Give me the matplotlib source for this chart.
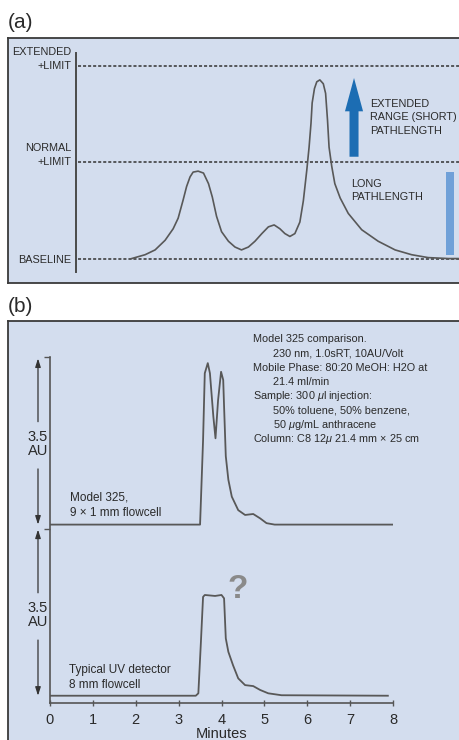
import numpy as np
import matplotlib
matplotlib.use('Agg')
import matplotlib.pyplot as plt
from matplotlib.patches import Rectangle

W, H = 460, 740

# (a) schematic chromatogram, signal in units of the normal limit
a_x = [1.45, 1.80, 2.06, 2.32, 2.53, 2.66, 2.79, 2.88, 2.97, 3.05,
       3.18, 3.32, 3.45, 3.55, 3.66, 3.79, 3.97, 4.14, 4.31, 4.49,
       4.66, 4.84, 5.01, 5.16, 5.31, 5.44, 5.57, 5.70, 5.83, 5.92,
       6.01, 6.07, 6.12, 6.15, 6.21, 6.27, 6.35, 6.44, 6.50, 6.55,
       6.59, 6.66, 6.74, 6.88, 7.09, 7.44, 7.87, 8.31, 8.74, 9.17,
       9.70, 9.95]
a_y = [0.0, 0.04, 0.09, 0.19, 0.31, 0.42, 0.61, 0.75, 0.85, 0.90,
       0.91, 0.89, 0.78, 0.64, 0.44, 0.28, 0.18, 0.12, 0.09, 0.12,
       0.18, 0.26, 0.33, 0.35, 0.31, 0.26, 0.23, 0.26, 0.38, 0.60,
       0.92, 1.16, 1.41, 1.62, 1.77, 1.84, 1.86, 1.82, 1.72, 1.44,
       1.16, 0.96, 0.78, 0.63, 0.47, 0.30, 0.18, 0.09, 0.04, 0.01,
       0.0, 0.0]
limit_levels = [0, 1, 2]
limit_labels = ['BASELINE', 'NORMAL\n+LIMIT', 'EXTENDED\n+LIMIT']

# (b) Model 325 vs typical UV detector (minutes, AU)
t_325 = [0, 3.50, 3.57, 3.61, 3.68, 3.73, 3.81, 3.86, 3.92, 3.99,
         4.04, 4.06, 4.10, 4.16, 4.24, 4.39, 4.55, 4.74, 4.90, 5.05,
         5.24, 8.0]
au_325 = [0, 0, 1.75, 3.14, 3.35, 3.14, 2.24, 1.79, 2.58, 3.17,
          3.0, 2.45, 1.42, 0.93, 0.58, 0.30, 0.20, 0.22, 0.13, 0.03,
          0, 0]
t_uv = [0, 3.40, 3.46, 3.52, 3.57, 3.61, 3.85, 4.00, 4.06, 4.10,
        4.16, 4.27, 4.39, 4.55, 4.74, 4.90, 5.09, 5.40, 7.88]
au_uv = [0, 0, 0.05, 1.12, 2.05, 2.09, 2.07, 2.09, 2.02, 1.19,
         0.91, 0.63, 0.36, 0.22, 0.20, 0.12, 0.05, 0.01, 0]
offset_325 = 3.55
au_range = 3.5
minute_ticks = list(range(0, 9))

notes = [(0, 'Model 325 comparison.'),
         (1, '230 nm, 1.0sRT, 10AU/Volt'),
         (0, 'Mobile Phase: 80:20 MeOH: H2O at'),
         (1, '21.4 ml/min'),
         (0, r'Sample: 300 $\mu$l injection:'),
         (1, '50% toluene, 50% benzene,'),
         (1, r'50 $\mu$g/mL anthracene'),
         (0, 'Column: C8 12$\\mu$ 21.4 mm \u00d7 25 cm')]

FONT = ['Liberation Sans', 'DejaVu Sans']
plt.rcParams['font.family'] = FONT
plt.rcParams['mathtext.fontset'] = 'custom'
plt.rcParams['mathtext.rm'] = 'Liberation Sans'
plt.rcParams['mathtext.it'] = 'Liberation Sans:italic'

PANEL = '#d3ddee'
INK = '#2a2a2a'
TRACE = '#585858'
SMALL = 7.8


def rect(x0, y0, x1, y1):
    return [x0 / W, 1 - y1 / H, (x1 - x0) / W, (y1 - y0) / H]


def fxy(x, y):
    return x / W, 1 - y / H


fig = plt.figure(figsize=(4.6, 7.4), dpi=100)
fig.patch.set_facecolor('white')

# panel backgrounds
for box in [(8, 38, 464, 283), (8, 321, 464, 752)]:
    bg = fig.add_axes(rect(*box), zorder=0)
    bg.set_facecolor(PANEL)
    bg.set_xticks([])
    bg.set_yticks([])
    for s in bg.spines.values():
        s.set_color('#3a3a3a')
        s.set_linewidth(1.3)

fig.text(*fxy(8, 22), '(a)', fontsize=15, color=INK, va='center')
fig.text(*fxy(8, 306), '(b)', fontsize=15, color=INK, va='center')

# ---- panel (a)
ax = fig.add_axes(rect(76, 53, 460, 272), zorder=1)
ax.set_facecolor('none')
ax.set_xlim(0, 10)
ax.set_ylim(-0.14, 2.14)
for k in ['top', 'right', 'bottom']:
    ax.spines[k].set_visible(False)
ax.spines['left'].set_color('#4a4a4a')
ax.spines['left'].set_linewidth(1.4)
ax.set_xticks([])
ax.set_yticks([])

for lev, lab in zip(limit_levels, limit_labels):
    ax.axhline(lev, xmin=0.006, color='#333333', lw=1.1, ls=(0, (2, 1.3)))
    dy = 0.08 if '\n' in lab else -0.01
    ax.text(-0.012, lev + dy, lab, transform=ax.get_yaxis_transform(),
            ha='right', va='center', multialignment='right',
            fontsize=SMALL, color=INK, linespacing=1.45)

ax.plot(a_x, a_y, color=TRACE, lw=1.2, solid_joinstyle='round')

ax.annotate('', xy=(7.24, 1.88), xytext=(7.24, 1.06),
            arrowprops=dict(arrowstyle='simple,head_length=2.4,head_width=1.3,tail_width=0.65',
                            color='#1c6db3', shrinkA=0, shrinkB=0, lw=0))
ax.add_patch(Rectangle((9.64, 0.036), 0.2, 0.86, color='#6fa0d8', lw=0))

fig.text(*fxy(370, 117.5), 'EXTENDED\nRANGE (SHORT)\nPATHLENGTH', fontsize=SMALL,
         color=INK, va='center', linespacing=1.4)
fig.text(*fxy(351, 190.7), 'LONG\nPATHLENGTH', fontsize=SMALL,
         color=INK, va='center', linespacing=1.4)

# ---- panel (b)
bx = fig.add_axes(rect(50, 357, 393, 703), zorder=1)
bx.set_facecolor('none')
bx.set_xlim(0, 8)
bx.set_ylim(-0.151, 7.027)
for k in ['top', 'right']:
    bx.spines[k].set_visible(False)
for k in ['left', 'bottom']:
    bx.spines[k].set_color('#555555')
    bx.spines[k].set_linewidth(1.2)
bx.set_xticks(minute_ticks)
bx.set_xticklabels([str(m) for m in minute_ticks], fontsize=10.5, color=INK)
bx.tick_params(axis='x', direction='inout', length=4, width=1, color='#555555', pad=5.5)
bx.set_yticks([offset_325 - 0.1, 7.02])
bx.set_yticklabels([])
bx.tick_params(axis='y', direction='out', length=4, width=1, color='#555555')
bx.set_xlabel('Minutes', fontsize=10.5, color=INK, labelpad=0)

bx.plot(t_325, np.array(au_325) + offset_325, color=TRACE, lw=1.3)
bx.plot(t_uv, au_uv, color=TRACE, lw=1.3)

# 3.5 AU scale arrows
arw = dict(arrowstyle='-|>,head_length=0.5,head_width=0.16', color='#333333',
           lw=0.9, shrinkA=0, shrinkB=0)
xa = -0.28
for base in [offset_325, 0]:
    bx.annotate('', xy=(xa, base + au_range * 0.985), xytext=(xa, base + au_range * 0.61),
                arrowprops=arw, annotation_clip=False)
    bx.annotate('', xy=(xa, base), xytext=(xa, base + au_range * 0.33),
                arrowprops=arw, annotation_clip=False)
    bx.text(xa, base + au_range * 0.48, '%.1f\nAU' % au_range, fontsize=10.5,
            color=INK, ha='center', va='center', linespacing=1.0)

bx.text(0.47, offset_325 + 0.4, 'Model 325,\n9 \u00d7 1 mm flowcell', fontsize=8.5,
        color=INK, va='center', linespacing=1.3)
bx.text(0.44, 0.38, 'Typical UV detector\n8 mm flowcell', fontsize=8.5,
        color=INK, va='center', linespacing=1.3)
bx.text(4.37, 2.2, '?', fontsize=24, fontweight='bold', color='#8a8a8a',
        ha='center', va='center')

for i, (indent, line) in enumerate(notes):
    fig.text(*fxy(253 + 20 * indent, 339.3 + 14.2 * i), line, fontsize=SMALL,
             color=INK, va='center')

fig.savefig('out.png', dpi=100)
